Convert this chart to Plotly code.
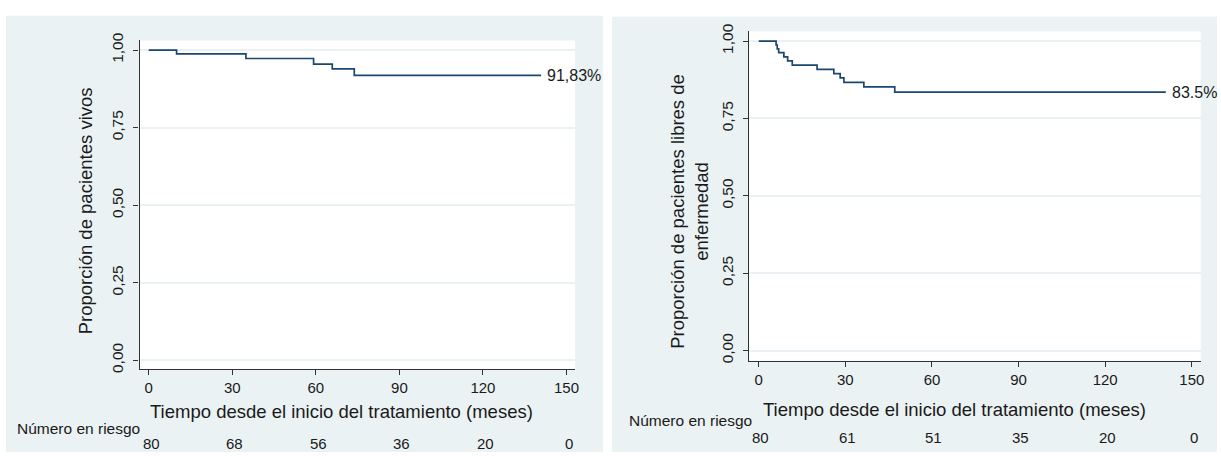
import plotly.graph_objects as go

# ---------------- data ----------------
# Left panel: overall survival (Kaplan-Meier)
time_os = [0, 10.0, 34.9, 59.2, 65.9, 73.8, 140.9]
surv_os = [1.0, 0.9875, 0.9727, 0.9548, 0.9390, 0.9183, 0.9183]
risk_os = [80, 68, 56, 36, 20, 0]
label_os = "91,83%"

# Right panel: disease-free survival (Kaplan-Meier)
time_dfs = [0, 6.0, 6.4, 6.9, 8.7, 10.0, 11.6, 20.2, 26.0, 28.2, 29.5, 36.4, 47.1, 141.0]
surv_dfs = [1.0, 0.9875, 0.975, 0.9625, 0.9488, 0.9363, 0.9225, 0.9088, 0.8950,
            0.8810, 0.8665, 0.8520, 0.835, 0.835]
risk_dfs = [80, 61, 51, 35, 20, 0]
label_dfs = "83.5%"

x_ticks = [0, 30, 60, 90, 120, 150]
y_ticks = [0, 0.25, 0.5, 0.75, 1.0]
y_ticktext = ["0,00", "0,25", "0,50", "0,75", "1,00"]

ytitle_os = "Proporción de pacientes vivos"
ytitle_dfs = "Proporción de pacientes libres de<br>enfermedad"
xtitle = "Tiempo desde el inicio del tratamiento (meses)"
risk_title = "Número en riesgo"

# ---------------- layout helpers ----------------
W, H = 1221, 456
def px(x):
    return x / W
def py(y):
    return 1 - y / H

FONT = "Liberation Sans, Arial, Helvetica, sans-serif"
TXT = "#1a1a1a"
LINE = "#1A476F"
PANEL = "#EAF2F3"
GRID = "#EAF1F3"

fig = go.Figure()

fig.add_trace(go.Scatter(x=time_os, y=surv_os, mode="lines", line=dict(color=LINE, width=1.7, shape="hv"),
                         xaxis="x", yaxis="y", showlegend=False, hoverinfo="skip"))
fig.add_trace(go.Scatter(x=time_dfs, y=surv_dfs, mode="lines", line=dict(color=LINE, width=1.7, shape="hv"),
                         xaxis="x2", yaxis="y2", showlegend=False, hoverinfo="skip"))

xax = dict(range=[-3.3, 153.1], tickvals=x_ticks, ticks="outside", ticklen=5, tickwidth=1,
           tickcolor="#333", showline=True, linecolor="#333", linewidth=1.2, showgrid=False,
           zeroline=False, tickfont=dict(family=FONT, size=15, color=TXT), fixedrange=True)
yax = dict(tickvals=y_ticks, ticktext=y_ticktext, tickangle=-90, ticks="outside", ticklen=5,
           tickwidth=1, tickcolor="#333", showline=True, linecolor="#333", linewidth=1.2,
           showgrid=True, gridcolor=GRID, gridwidth=1.5, zeroline=False, ticklabelstandoff=4,
           tickfont=dict(family=FONT, size=15.5, color=TXT), fixedrange=True)

fig.update_layout(
    width=W, height=H, autosize=False,
    margin=dict(l=0, r=0, t=0, b=0),
    paper_bgcolor="white", plot_bgcolor="white",
    font=dict(family=FONT, color=TXT),
    xaxis=dict(xax, domain=[px(140), px(577)], anchor="y"),
    yaxis=dict(yax, domain=[py(370.7), py(33.3)], range=[-0.028, 1.031], anchor="x"),
    xaxis2=dict(xax, domain=[px(751.7), px(1204.7)], anchor="y2"),
    yaxis2=dict(yax, domain=[py(362.3), py(24)], range=[-0.033, 1.0315], anchor="x2"),
    showlegend=False,
)

# panel backgrounds
fig.add_shape(type="rect", xref="paper", yref="paper", x0=px(6), x1=px(605), y0=py(456), y1=py(8),
              fillcolor=PANEL, line=dict(width=0), layer="below")
fig.add_shape(type="rect", xref="paper", yref="paper", x0=px(614), x1=px(1221), y0=py(456), y1=py(9),
              fillcolor=PANEL, line=dict(width=0), layer="below")
fig.add_shape(type="rect", xref="x domain", yref="y domain", x0=0, x1=1, y0=0, y1=1,
              fillcolor="white", line=dict(width=0), layer="below")
fig.add_shape(type="rect", xref="x2 domain", yref="y2 domain", x0=0, x1=1, y0=0, y1=1,
              fillcolor="white", line=dict(width=0), layer="below")

ann = []
# end labels
ann.append(dict(x=time_os[-1], y=surv_os[-1], xref="x", yref="y", text=label_os, showarrow=False,
                xanchor="left", yanchor="middle", xshift=4, font=dict(size=16)))
ann.append(dict(x=time_dfs[-1], y=surv_dfs[-1], xref="x2", yref="y2", text=label_dfs, showarrow=False,
                xanchor="left", yanchor="middle", xshift=4, font=dict(size=16)))
# y titles
ann.append(dict(x=px(86), y=py(208), xref="paper", yref="paper", text=ytitle_os, textangle=-90,
                showarrow=False, xanchor="center", yanchor="middle", font=dict(size=18.5)))
ann.append(dict(x=px(691), y=py(208.5), xref="paper", yref="paper", text=ytitle_dfs, textangle=-90,
                showarrow=False, xanchor="center", yanchor="middle", font=dict(size=18.5)))
# x titles
ann.append(dict(x=px(343), y=py(414), xref="paper", yref="paper", text=xtitle, showarrow=False,
                xanchor="center", yanchor="middle", font=dict(size=18.5)))
ann.append(dict(x=px(958), y=py(412), xref="paper", yref="paper", text=xtitle, showarrow=False,
                xanchor="center", yanchor="middle", font=dict(size=18.5)))
# number at risk titles
ann.append(dict(x=px(142), y=py(432), xref="paper", yref="paper", text=risk_title, showarrow=False,
                xanchor="right", yanchor="middle", font=dict(size=15.5)))
ann.append(dict(x=px(756), y=py(424), xref="paper", yref="paper", text=risk_title, showarrow=False,
                xanchor="right", yanchor="middle", font=dict(size=15.5)))
# numbers at risk
for t, n in zip(x_ticks, risk_os):
    ann.append(dict(x=t, y=py(447), xref="x", yref="paper", text=str(n), showarrow=False,
                    xanchor="center", yanchor="middle", xshift=2.5, font=dict(size=15)))
for t, n in zip(x_ticks, risk_dfs):
    ann.append(dict(x=t, y=py(441), xref="x2", yref="paper", text=str(n), showarrow=False,
                    xanchor="center", yanchor="middle", xshift=2, font=dict(size=15)))

fig.update_layout(annotations=ann)
fig.write_html("out.html", config={"displayModeBar": False},
               post_script="document.body.style.margin='0';document.body.style.overflow='hidden';")
